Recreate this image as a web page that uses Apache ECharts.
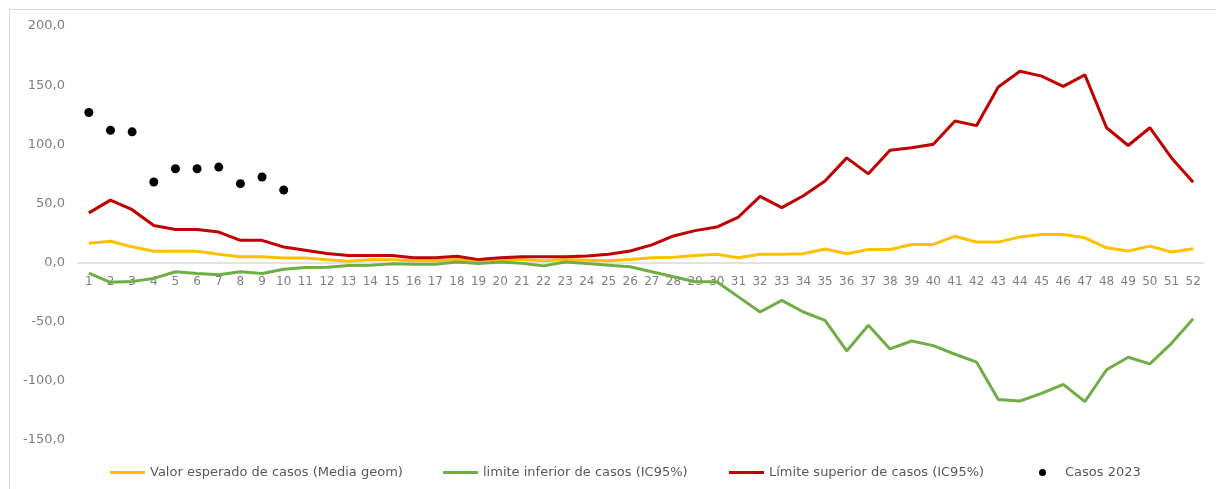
<!DOCTYPE html>
<html>
<head>
<meta charset="utf-8">
<style>
html,body{margin:0;padding:0;background:#fff;}
#chart{width:1216px;height:489px;}
</style>
<script src="https://cdn.jsdelivr.net/npm/echarts@6/dist/echarts.min.js"></script>
</head>
<body>
<div id="chart"></div>
<script>
const categories = ["1","2","3","4","5","6","7","8","9","10","11","12","13","14","15","16","17","18","19","20","21","22","23","24","25","26","27","28","29","30","31","32","33","34","35","36","37","38","39","40","41","42","43","44","45","46","47","48","49","50","51","52"];

const expectedCases = [16.3,18,13.3,9.6,9.6,9.6,7,5,5,3.9,3.9,2.3,1.2,2.3,2.3,1.5,1.5,2.5,1.5,2.5,2.5,1.5,2.5,2,1.5,2.5,4,4.5,6,7,4,7,7,7.5,11.5,7.5,11.1,11.1,15.3,15.3,22.3,17.3,17.3,21.7,23.7,23.7,20.9,12.5,9.8,13.9,8.9,11.7];

const lowerLimit = [-8.9,-16.7,-15.9,-13.4,-7.8,-9.2,-10.3,-7.8,-9.2,-5.6,-4.2,-3.9,-2.5,-2.2,-1.1,-1.4,-1.4,0.5,-0.8,0.5,-0.6,-2.8,0.5,-0.8,-2.2,-3.6,-7.8,-12,-16.2,-16.2,-29,-41.8,-32,-41.8,-48.8,-74.7,-53,-73,-66.3,-70.2,-77.5,-84.2,-115.7,-117,-110.6,-103,-117.6,-90.6,-80,-85.6,-68.3,-47.4];

const upperLimit = [42,52.8,44.7,31.3,28,28,25.8,18.8,18.8,13.2,10.5,7.7,6,6,6,4,4,5.3,2.5,4,5,5,5,5.5,7,9.8,15,22.5,27,30,38.5,56,46.5,56.5,69,88.5,75,95,97,100,119.7,115.8,148.4,161.8,157.6,149,158.7,114,99,114,88.5,68];

const cases2023 = [126.9,111.9,110.5,68.1,79.3,79.3,80.7,66.7,72.3,61.4];

const yTicks = { min: -150, max: 200, interval: 50 };

const names = [
  "Valor esperado de casos (Media geom)",
  "limite inferior de casos (IC95%)",
  "Límite superior de casos (IC95%)",
  "Casos 2023"
];

const FONT = "DejaVu Sans";
const GRID = {left:78, right:12, top:26, bottom:49};
const plotH = 489 - GRID.top - GRID.bottom;
// distance of the zero value above the bottom of the plot, used to lift the category axis to y = 0
const zeroLift = plotH * (0 - yTicks.min) / (yTicks.max - yTicks.min);

const chart = echarts.init(document.getElementById('chart'), null, {renderer:'canvas'});

function lineLegend(name, left){
  return {
    data:[{name:name, icon:'rect'}],
    left:left, top:461, itemWidth:35, itemHeight:3, itemGap:0,
    textStyle:{fontFamily:FONT, fontSize:13, color:'#595959'}
  };
}

chart.setOption({
  animation:false,
  backgroundColor:'#fff',
  grid:{left:GRID.left, right:GRID.right, top:GRID.top, bottom:GRID.bottom, containLabel:false},
  legend:[
    lineLegend(names[0], 105),
    lineLegend(names[1], 438),
    lineLegend(names[2], 724),
    {
      data:[{name:names[3], icon:'circle'}],
      left:1034, top:461, itemWidth:7, itemHeight:8,
      textStyle:{fontFamily:FONT, fontSize:13, color:'#595959', padding:[0,0,0,14]}
    }
  ],
  xAxis:{
    type:'category',
    data:categories,
    boundaryGap:true,
    position:'bottom',
    offset:-zeroLift,
    axisLine:{onZero:false, lineStyle:{color:'#d9d9d9', width:1.5}},
    axisTick:{show:false},
    axisLabel:{fontFamily:FONT, fontSize:12, color:'#7f7f7f', margin:13, interval:0},
    splitLine:{show:false}
  },
  yAxis:{
    type:'value',
    min:yTicks.min, max:yTicks.max, interval:yTicks.interval,
    axisLine:{show:false},
    axisTick:{show:false},
    splitLine:{show:false},
    axisLabel:{
      fontFamily:FONT, fontSize:13, color:'#7f7f7f', margin:13,
      formatter:function(v){ return v.toFixed(1).replace('.', ','); }
    }
  },
  graphic:[
    {type:'line', shape:{x1:9.5,y1:9.5,x2:9.5,y2:489}, style:{stroke:'#d9d9d9', lineWidth:1}},
    {type:'line', shape:{x1:9.5,y1:9.5,x2:1216,y2:9.5}, style:{stroke:'#d9d9d9', lineWidth:1}}
  ],
  series:[
    {name:names[0], type:'line', data:expectedCases, showSymbol:false, symbol:'none',
     lineStyle:{color:'#FFC000', width:3}, itemStyle:{color:'#FFC000'}},
    {name:names[1], type:'line', data:lowerLimit, showSymbol:false, symbol:'none',
     lineStyle:{color:'#70AD47', width:3}, itemStyle:{color:'#70AD47'}},
    {name:names[2], type:'line', data:upperLimit, showSymbol:false, symbol:'none',
     lineStyle:{color:'#C00000', width:3}, itemStyle:{color:'#C00000'}},
    {name:names[3], type:'scatter', data:cases2023, symbol:'circle', symbolSize:9,
     itemStyle:{color:'#000', opacity:1}}
  ]
});
</script>
</body>
</html>
